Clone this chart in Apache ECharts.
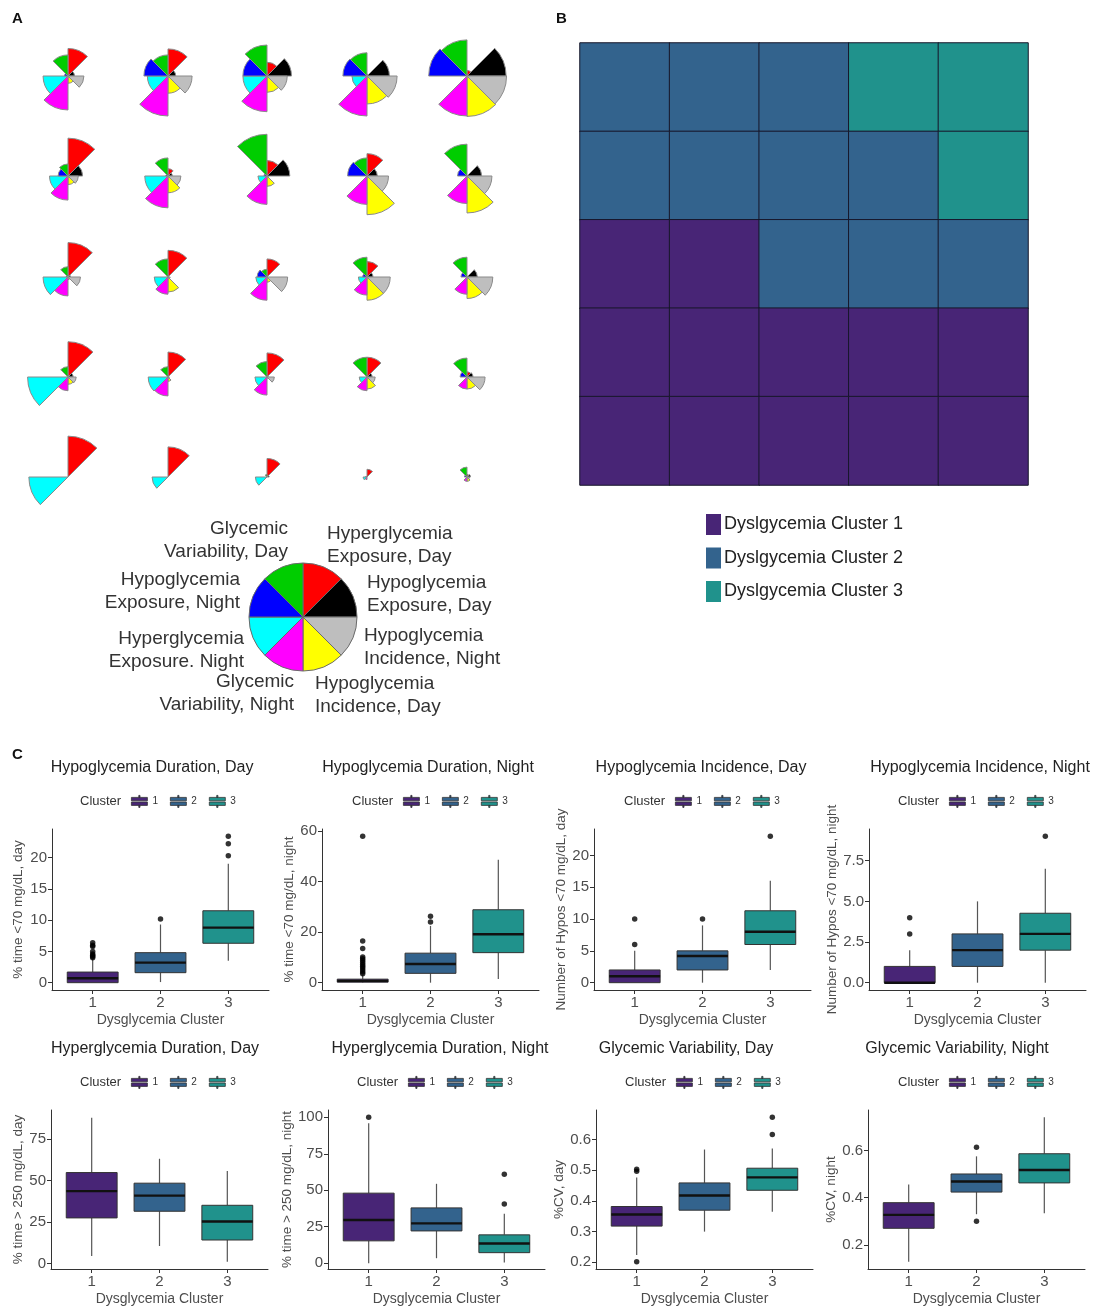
<!DOCTYPE html>
<html><head><meta charset="utf-8">
<script src="https://cdn.jsdelivr.net/npm/echarts@6/dist/echarts.min.js"></script>
<style>html,body{margin:0;padding:0;background:#fff}#c{width:1098px;height:1309px}</style>
</head><body><div id="c"></div>
<script>
// ---------------- DATA ----------------
// Panel A: segment (rose) diagrams, 8 features in clockwise order from 12 o'clock
const roseCategories = ['Hyperglycemia Exposure, Day','Hypoglycemia Exposure, Day','Hypoglycemia Incidence, Night','Hypoglycemia Incidence, Day','Glycemic Variability, Night','Hyperglycemia Exposure, Night','Hypoglycemia Exposure, Night','Glycemic Variability, Day'];
const roseColors = ['#ff0000','#000000','#bebebe','#ffff00','#ff00ff','#00ffff','#0000ff','#00cd00'];
const roseRow1 = [[.64,.15,.37,.17,.79,.58,.08,.49],[.63,.18,.56,.40,.93,.48,.56,.49],[.32,.57,.47,.38,.83,.56,.56,.72],[.04,.52,.70,.65,.93,.35,.56,.54],[.13,.91,.92,.94,.93,0,.89,.84]];
const roseRow2 = [[.88,.34,.24,.20,.56,.43,.23,.28],[.17,.10,.30,.39,.74,.54,.05,.42],[.36,.53,.03,.24,.66,.21,.07,.97],[.52,.24,.50,.90,.66,0,.45,.42],[0,.34,.58,.86,.64,0,.22,.74]];
const roseRow3 = [[.80,.06,.29,.06,.44,.58,.04,.24],[.62,.02,.05,.35,.40,.32,.02,.42],[.42,.02,.48,.12,.54,.26,.23,.18],[.36,.14,.54,.54,.42,.20,.10,.46],[.02,.24,.60,.50,.40,.02,.14,.46]];
const roseRow4 = [[.82,.12,.19,.17,.32,.94,.02,.24],[.58,.02,.03,.10,.44,.46,.02,.24],[.56,.03,.17,.03,.42,.28,.02,.36],[.46,.12,.19,.28,.32,.18,.02,.46],[.12,.14,.42,.28,.28,.02,.16,.44]];
const roseRow5 = [[.95,0,0,0,0,.91,0,0],[.70,0,0,0,0,.37,0,0],[.43,.05,0,0,0,.27,0,.06],[.18,0,0,0,.06,.09,.03,0],[.06,.08,.06,.10,.10,0,.06,.23]];
const roseKeyLabels = ['Hyperglycemia\nExposure, Day','Hypoglycemia\nExposure, Day','Hypoglycemia\nIncidence, Night','Hypoglycemia\nIncidence, Day','Glycemic\nVariability, Night','Hyperglycemia\nExposure. Night','Hypoglycemia\nExposure, Night','Glycemic\nVariability, Day'];

// Panel B: 5x5 map of cluster membership (rows top to bottom)
const heatCols = ['c1','c2','c3','c4','c5'];
const heatRowNames = ['r1','r2','r3','r4','r5'];
const heatRow1 = [2,2,2,3,3];
const heatRow2 = [2,2,2,2,3];
const heatRow3 = [1,1,2,2,2];
const heatRow4 = [1,1,1,1,1];
const heatRow5 = [1,1,1,1,1];
const clusterNames = ['Dyslgycemia Cluster 1','Dyslgycemia Cluster 2','Dyslgycemia Cluster 3'];
const clusterColors = ['#482576','#33638d','#20928c'];

// Panel C: boxplots [min, Q1, median, Q3, max] per cluster, plus outliers
const clusterLabels = ['1','2','3'];
const boxTitles = ['Hypoglycemia Duration, Day','Hypoglycemia Duration, Night','Hypoglycemia Incidence, Day','Hypoglycemia Incidence, Night','Hyperglycemia Duration, Day','Hyperglycemia Duration, Night','Glycemic Variability, Day','Glycemic Variability, Night'];
const yTitles = ['% time <70 mg/dL, day','% time <70 mg/dL, night','Number of Hypos <70 mg/dL, day','Number of Hypos <70 mg/dL, night','% time > 250 mg/dL, day','% time > 250 mg/dL, night','%CV, day','%CV, night'];
const statsHypoDurDay = [[0,0,0.7,1.7,3.8],[0.1,1.6,3.2,4.8,9.3],[3.5,6.3,8.8,11.5,19.0]];
const outHypoDurDay = [[4.0,4.2,4.4,4.6,5.0,5.8,6.0,6.4],[10.2],[20.3,22.2,23.4]];
const statsHypoDurNight = [[0,0.2,0.7,1.4,3.0],[0,3.7,7.4,11.7,22.5],[1.5,11.9,19.2,28.9,48.7]];
const outHypoDurNight = [[3.5,4.2,5,5.8,6.5,7.2,8,8.8,9.5,10.2,13.5,16.5,58],[24,26.3],[]];
const statsHypoIncDay = [[0,0,1,2,5],[0,2,4.2,5,9],[2,6,8,11.3,16]];
const outHypoIncDay = [[6,10],[10],[23]];
const statsHypoIncNight = [[0,0,0,1,2],[0,1,2,3,5],[0,2,3,4.27,7]];
const outHypoIncNight = [[3,4],[],[9]];
const statsHyperDurDay = [[4.5,27.4,43.5,54.7,87.7],[10.5,31.4,40.8,48.3,63],[1,14.1,25.2,35,55.7]];
const outHyperDurDay = [[],[],[]];
const statsHyperDurNight = [[0,15.3,29.6,48,96],[3.4,22.1,27.3,37.9,54.4],[0.5,7.2,13.5,19.4,33.9]];
const outHyperDurNight = [[100],[],[40.6,61]];
const statsGVDay = [[0.224,0.318,0.356,0.382,0.477],[0.30,0.370,0.418,0.459,0.568],[0.365,0.435,0.477,0.507,0.571]];
const outGVDay = [[0.202,0.497,0.504],[],[0.617,0.673]];
const statsGVNight = [[0.128,0.27,0.327,0.379,0.456],[0.33,0.424,0.469,0.501,0.576],[0.334,0.463,0.518,0.587,0.742]];
const outGVNight = [[],[0.30,0.615],[]];
const yTicks = [[0,5,10,15,20],[0,20,40,60],[0,5,10,15,20],[0,2.5,5,7.5],[0,25,50,75],[0,25,50,75,100],[0.2,0.3,0.4,0.5,0.6],[0.2,0.4,0.6]];
const yTickDecimals = [0,0,0,1,0,0,1,1];
const yRanges = [[-1.17,24.57],[-2.9,60.9],[-1.15,24.15],[-0.45,9.45],[-3.35,92.35],[-4,105],[0.178,0.697],[0.097,0.773]];

// ---------------- LAYOUT ----------------
const FONT = 'Arial, "Liberation Sans", sans-serif';
const roseColX = [68,168,267,367,467];
const roseRowY = [76,176,277,377,477];
const ROSE_R = 43;
const boxAxisX = [52,322,594,869,51,328,596,868];
const boxTitleX = [152,428,701,980,155,440,686,957];
const clusterTextX = [80,352,624,898,80,357,625,898];
const yNameGap = [27,25,24,26,26,32,23,28];
const rowTop = [829,1110], rowBottom = [990,1269], rowTitleY = [768,1049], rowLegendY = [801,1082];
const PANEL_W = 217;

const chart = echarts.init(document.getElementById('c'), null, {renderer:'canvas'});
const option = {backgroundColor:'#fff', animation:false, textStyle:{fontFamily:FONT},
  polar:[], angleAxis:[], radiusAxis:[], grid:[], xAxis:[], yAxis:[], series:[], legend:[], graphic:[], visualMap:[]};

function txt(x, y, text, size, opts) {
  opts = opts || {};
  const align = opts.align || 'center';
  const valign = opts.valign || 'middle';
  return {type:'text', x:x, y:y, silent:true, style:{text:text, font:(opts.weight||'normal')+' '+size+'px '+FONT,
    fill:opts.color||'#222', textAlign:align, textVerticalAlign:valign, align:align, verticalAlign:valign, lineHeight:opts.lineHeight||size*1.2}};
}

// ---- Panel A ----
const roseRows = [roseRow1, roseRow2, roseRow3, roseRow4, roseRow5];
roseRows.forEach((row, r) => row.forEach((vals, c) => {
  const i = option.polar.length;
  option.polar.push({center:[roseColX[c], roseRowY[r]], radius:[0, ROSE_R]});
  option.angleAxis.push({polarIndex:i, type:'category', data:roseCategories, startAngle:90, clockwise:true, show:false});
  option.radiusAxis.push({polarIndex:i, type:'value', min:0, max:1, show:false});
  option.series.push({type:'bar', coordinateSystem:'polar', polarIndex:i, barCategoryGap:'0%', silent:true,
    itemStyle:{borderColor:'#8a8a8a', borderWidth:1},
    data: vals.map((v,k) => ({value:v, itemStyle:{color:roseColors[k]}}))});
}));
// key pie
option.series.push({type:'pie', center:[303,617], radius:54, startAngle:90, clockwise:true, silent:true,
  label:{show:false}, labelLine:{show:false}, itemStyle:{borderColor:'#6b6b6b', borderWidth:1},
  data: roseCategories.map((n,k) => ({name:n, value:1, itemStyle:{color:roseColors[k]}}))});
const keyPos = [[327,545,'left'],[367,594,'left'],[364,647,'left'],[315,695,'left'],[294,693,'right'],[244,650,'right'],[240,591,'right'],[288,540,'right']];
roseKeyLabels.forEach((t,k) => option.graphic.push(txt(keyPos[k][0], keyPos[k][1], t, 19, {align:keyPos[k][2], color:'#333', lineHeight:23})));

// ---- Panel B ----
const gB = option.grid.length;
option.grid.push({left:580, top:43, width:448, height:442});
option.xAxis.push({gridIndex:gB, type:'category', data:heatCols, show:false});
option.yAxis.push({gridIndex:gB, type:'category', data:heatRowNames, inverse:true, show:false});
const heatData = [];
[heatRow1,heatRow2,heatRow3,heatRow4,heatRow5].forEach((row,r) => row.forEach((v,c) => heatData.push([c,r,v])));
const heatSeriesIndex = option.series.length;
option.series.push({type:'heatmap', xAxisIndex:gB, yAxisIndex:gB, data:heatData, silent:true,
  itemStyle:{borderColor:'#17172a', borderWidth:1}});
option.visualMap.push({type:'piecewise', seriesIndex:heatSeriesIndex, dimension:2, orient:'vertical', inverse:true, align:'left',
  left:706, top:514, padding:0, itemWidth:15, itemHeight:21, itemGap:12.5, itemSymbol:'rect', textGap:3, selectedMode:false,
  textStyle:{fontSize:18, color:'#222', fontFamily:FONT},
  pieces: clusterNames.map((n,k) => ({value:k+1, label:n, color:clusterColors[k]}))});

// ---- Panel C ----
const allStats = [statsHypoDurDay,statsHypoDurNight,statsHypoIncDay,statsHypoIncNight,statsHyperDurDay,statsHyperDurNight,statsGVDay,statsGVNight];
const allOut = [outHypoDurDay,outHypoDurNight,outHypoIncDay,outHypoIncNight,outHyperDurDay,outHyperDurNight,outGVDay,outGVNight];
const LEGEND_ICON = 'path://M7.4,0H8.6V2H7.4Z M0,2H16V5.4H0Z M0,6.6H16V10H0Z M7.4,10H8.6V12H7.4Z';
function renderBox(params, api) {
  const x = api.value(0);
  const pMin = api.coord([x, api.value(1)]);
  const pQ1 = api.coord([x, api.value(2)]);
  const pMed = api.coord([x, api.value(3)]);
  const pQ3 = api.coord([x, api.value(4)]);
  const pMax = api.coord([x, api.value(5)]);
  const half = api.size([0.75, 0])[0] / 2;
  const color = api.visual('color');
  return {type:'group', children:[
    {type:'line', shape:{x1:pMin[0], y1:pMin[1], x2:pQ1[0], y2:pQ1[1]}, style:{stroke:'#555', lineWidth:1.2}},
    {type:'line', shape:{x1:pQ3[0], y1:pQ3[1], x2:pMax[0], y2:pMax[1]}, style:{stroke:'#555', lineWidth:1.2}},
    {type:'rect', shape:{x:pQ3[0]-half, y:pQ3[1], width:half*2, height:pQ1[1]-pQ3[1]}, style:{fill:color, stroke:'#333', lineWidth:1}},
    {type:'line', shape:{x1:pMed[0]-half, y1:pMed[1], x2:pMed[0]+half, y2:pMed[1]}, style:{stroke:'#111', lineWidth:2.4}}
  ]};
}
const axisColor = '#333';
for (let p = 0; p < 8; p++) {
  const row = p < 4 ? 0 : 1;
  const g = option.grid.length;
  option.grid.push({left:boxAxisX[p], top:rowTop[row], width:PANEL_W, height:rowBottom[row]-rowTop[row]});
  option.xAxis.push({gridIndex:g, type:'value', min:0.4, max:3.6,
    axisLine:{show:true, onZero:false, lineStyle:{color:axisColor, width:1}},
    axisTick:{show:true, length:4, customValues:[1,2,3], lineStyle:{color:axisColor}},
    axisLabel:{customValues:[1,2,3], fontSize:15, color:'#4d4d4d', margin:5, formatter:v => clusterLabels[Math.round(v)-1]},
    splitLine:{show:false}, name:'Dysglycemia Cluster', nameLocation:'middle', nameGap:23,
    nameTextStyle:{fontSize:14, color:'#4d4d4d'}});
  const dec = yTickDecimals[p];
  option.yAxis.push({gridIndex:g, type:'value', min:yRanges[p][0], max:yRanges[p][1],
    axisLine:{show:true, onZero:false, lineStyle:{color:axisColor, width:1}},
    axisTick:{show:true, length:4, customValues:yTicks[p], lineStyle:{color:axisColor}},
    axisLabel:{customValues:yTicks[p], fontSize:15, color:'#4d4d4d', margin:5, formatter:v => Number(v).toFixed(dec)},
    splitLine:{show:false}, name:yTitles[p], nameLocation:'middle', nameGap:yNameGap[p],
    nameTextStyle:{fontSize:13.5, color:'#4d4d4d'}});
  for (let k = 0; k < 3; k++) {
    option.series.push({type:'custom', name:clusterLabels[k], xAxisIndex:g, yAxisIndex:g, silent:true,
      itemStyle:{color:clusterColors[k]}, renderItem:renderBox, encode:{x:0, y:[1,2,3,4,5]},
      data:[[k+1].concat(allStats[p][k])], z:2});
  }
  const outData = [];
  allOut[p].forEach((arr,k) => arr.forEach(v => outData.push([k+1, v])));
  option.series.push({type:'scatter', name:'outlier', xAxisIndex:g, yAxisIndex:g, silent:true, symbolSize:5.5,
    itemStyle:{color:'#000'}, data:outData, z:3});
  option.legend.push({data:clusterLabels, left:clusterTextX[p]+51, top:rowLegendY[row]-6, padding:0, orient:'horizontal',
    itemWidth:16, itemHeight:12, itemGap:12, icon:LEGEND_ICON, selectedMode:false,
    itemStyle:{borderColor:'#333', borderWidth:0.8}, textStyle:{fontSize:10, color:'#333', fontFamily:FONT}});
  option.graphic.push(txt(boxTitleX[p], rowTitleY[row], boxTitles[p], 16, {color:'#222'}));
  option.graphic.push(txt(clusterTextX[p], rowLegendY[row], 'Cluster', 13, {align:'left', color:'#333'}));
}
// panel letters
option.graphic.push(txt(12, 19, 'A', 15, {align:'left', weight:'bold', color:'#111'}));
option.graphic.push(txt(556, 19, 'B', 15, {align:'left', weight:'bold', color:'#111'}));
option.graphic.push(txt(12, 755, 'C', 15, {align:'left', weight:'bold', color:'#111'}));

chart.setOption(option);
</script></body></html>
